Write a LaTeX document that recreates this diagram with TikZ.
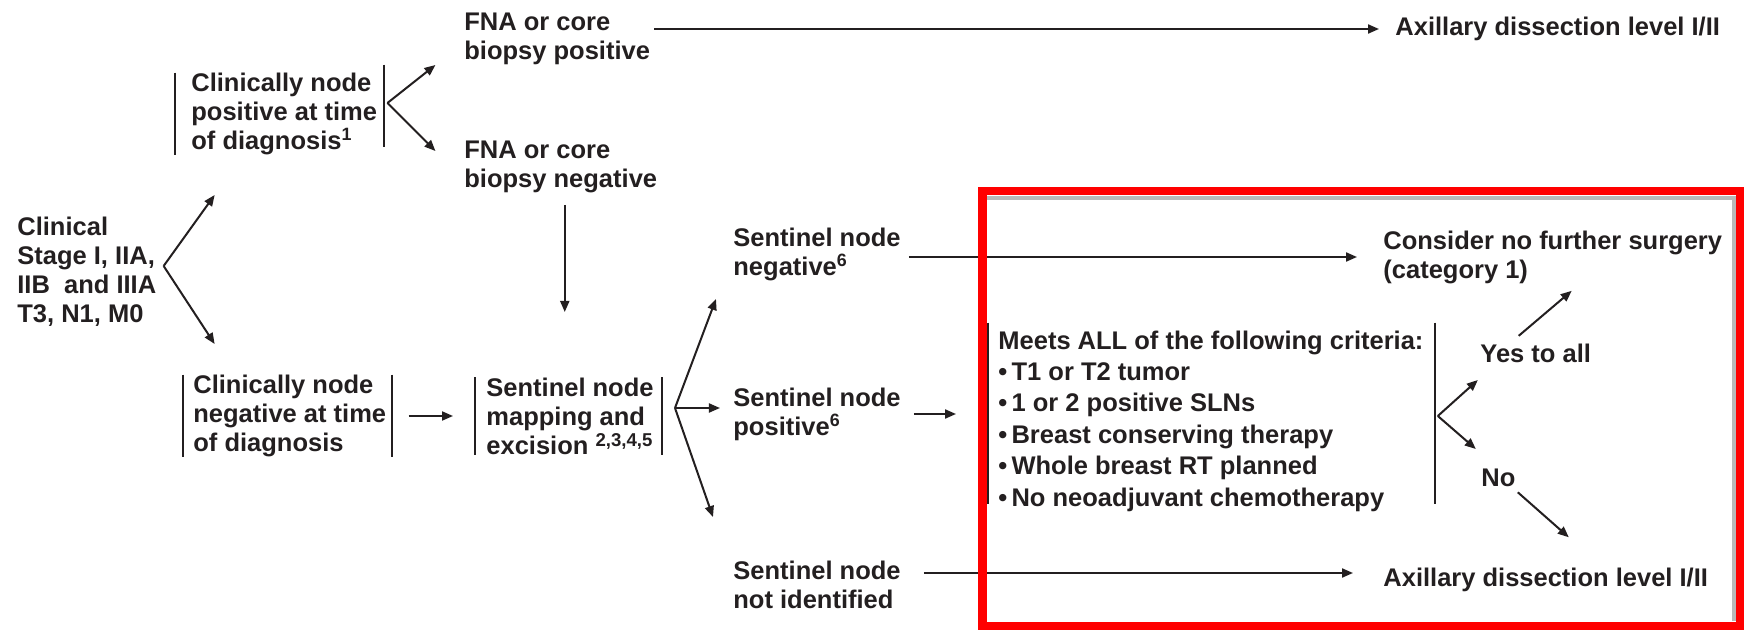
\documentclass[tikz,border=0pt]{standalone}
\usepackage{fontspec}
\setmainfont{Liberation Sans}
\usetikzlibrary{arrows.meta, positioning}
\definecolor{InkDark}{RGB}{35,31,32}
\definecolor{FrameRed}{RGB}{255,0,0}
\definecolor{ShadeGray}{RGB}{185,185,185}
\newcommand{\supbig}[1]{\raisebox{4pt}{\fontsize{9.3pt}{10pt}\selectfont #1}}
\tikzset{
  lbl/.style={inner sep=0pt, anchor=west, align=left, text=InkDark,
              font=\fontsize{12.75pt}{14.5pt}\selectfont\bfseries},
  listlbl/.style={lbl, font=\fontsize{12.75pt}{15.7pt}\selectfont\bfseries},
  arr/.style={-{Triangle[length=5.5pt, width=4.5pt]}, line width=1pt, color=InkDark},
  bar/.style={line width=1pt, color=InkDark},
  redframe/.style={draw=FrameRed, line width=4.25pt},
}

\begin{document}
\begin{tikzpicture}[x=0.5pt, y=-0.5pt]
  \useasboundingbox (0,0) rectangle (1744,630);

  \node[lbl] (clin) at (17,272)
       {Clinical\\Stage I, IIA,\\IIB\ \ and IIIA\\T3, N1, M0};
  \node[lbl] (cpos) at (191,114)
       {Clinically node\\positive at time\\of diagnosis\textsuperscript{1}};
  \node[lbl] (cneg) at (193,416)
       {Clinically node\\negative at time\\of diagnosis};
  \node[lbl] (fnapos) at (464,39) {FNA or core\\biopsy positive};
  \node[lbl] (fnaneg) at (464,167) {FNA or core\\biopsy negative};
  \node[lbl] (axtop) at (1395,29) {Axillary dissection level I/II};
  \node[lbl] (snmap) at (486,416)
       {Sentinel node\\mapping and\\excision \supbig{2,3,4,5}};
  \node[lbl] (snneg) at (733,254) {Sentinel node\\negative\textsuperscript{6}};
  \node[lbl] (snpos) at (733,414) {Sentinel node\\positive\textsuperscript{6}};
  \node[lbl] (snnot) at (733,585) {Sentinel node\\not identified};
  \node[lbl] (consider) at (1383,257) {Consider no further surgery\\(category 1)};
  \node[listlbl] (crit) at (998,421)
       {Meets ALL of the following criteria:\\
        •\,T1 or T2 tumor\\
        •\,1 or 2 positive SLNs\\
        •\,Breast conserving therapy\\
        •\,Whole breast RT planned\\
        •\,No neoadjuvant chemotherapy};
  \node[lbl] (yes) at (1480,353) {Yes to all};
  \node[lbl] (no) at (1481,478) {No};
  \node[lbl] (axbot) at (1383,580) {Axillary dissection level I/II};

  \draw[bar] ([xshift=-8pt]cpos.north west) -- ([xshift=-8pt]cpos.south west);
  \draw[bar] ([xshift=3.5pt,yshift=4pt]cpos.north east) -- ([xshift=3.5pt,yshift=4pt]cpos.south east);
  \draw[bar] ([xshift=-5pt]cneg.north west) -- ([xshift=-5pt]cneg.south west);
  \draw[bar] ([xshift=2.5pt]cneg.north east) -- ([xshift=2.5pt]cneg.south east);
  \draw[bar] ([xshift=-5.5pt]snmap.north west) -- ([xshift=-5.5pt]snmap.south west);
  \draw[bar] ([xshift=4pt]snmap.north east) -- ([xshift=4pt]snmap.south east);
  \draw[bar] ([xshift=-5pt,yshift=3.75pt]crit.north west) -- ([xshift=-5pt,yshift=3.75pt]crit.south west);
  \draw[bar] ([xshift=5.5pt,yshift=3.75pt]crit.north east) -- ([xshift=5.5pt,yshift=3.75pt]crit.south east);

  \coordinate (clinfork) at ([xshift=3.5pt,yshift=3pt]clin.east);
  \coordinate (cposfork) at ([xshift=5pt,yshift=5.5pt]cpos.east);
  \coordinate (snfork) at ([xshift=10.5pt,yshift=4pt]snmap.east);
  \coordinate (critfork) at ([xshift=7pt,yshift=2.5pt]crit.east);

  \draw[arr] (clinfork) -- ++(51,-71);
  \draw[arr] (clinfork) -- ++(51,78);
  \draw[arr] (cposfork) -- ++(48,-38);
  \draw[arr] (cposfork) -- ++(48,48);
  \draw[arr, shorten <=2pt, shorten >=8pt] (fnapos.east |- axtop.west) -- (axtop.west);
  \draw[arr] ([xshift=2pt,yshift=-5.8pt]fnaneg.south) -- ++(0,107);
  \draw[arr, shorten <=11pt, shorten >=16.5pt] (cneg.east) -- (snmap.west |- cneg.east);
  \draw[arr] (snfork) -- ++(41,-109);
  \draw[arr] (snfork) -- ++(45,0);
  \draw[arr] (snfork) -- ++(38,109);
  \draw[arr, shorten <=4pt, shorten >=13pt] (snneg.east |- consider.west) -- (consider.west);
  \draw[arr, shorten <=6.5pt, shorten >=21pt] (snpos.east) -- (snpos.east -| crit.west);
  \draw[arr, shorten <=11.5pt, shorten >=15pt] ([yshift=3.5pt]snnot.east |- axbot.west) -- ([yshift=3.5pt]axbot.west);
  \draw[arr] (critfork) -- ++(40,-36);
  \draw[arr] (critfork) -- ++(38,33);
  \draw[arr] ([xshift=-8.5pt,yshift=3.7pt]yes.north) -- ++(53,-45);
  \draw[arr] ([xshift=1pt,yshift=-2.5pt]no.south east) -- ++(51,45);

  \draw[ShadeGray, line width=2pt] (987,198) -- (1734,198) -- (1734,621);
  \draw[redframe] (982.25,191.25) rectangle (1739.75,625.75);
\end{tikzpicture}
\end{document}
